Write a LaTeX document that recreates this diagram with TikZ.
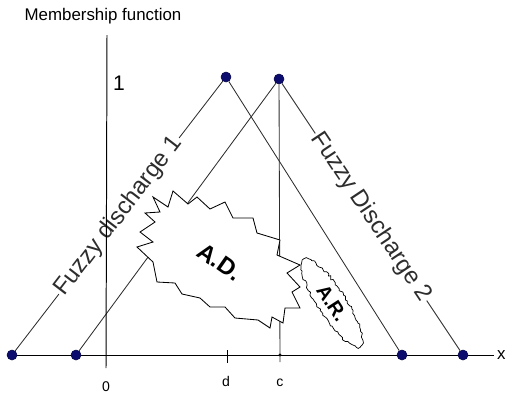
\documentclass[tikz,border=0pt]{standalone}
\usepackage{fontspec}
\setmainfont{Liberation Sans}
\usepackage{xcolor}
\usetikzlibrary{shapes.geometric, decorations.pathmorphing, positioning, calc}
\definecolor{cDot}{RGB}{12,12,110}
\definecolor{cLine}{RGB}{45,45,45}
\tikzset{
	pt/.style      ={circle, draw=cDot!70!black, fill=cDot, minimum size=0.25cm, inner sep=0pt},
	axis/.style    ={line width=0.7pt, black},
	edge/.style    ={line width=0.6pt, cLine},
	curvelbl/.style={font=\fontsize{17}{17}\selectfont, fill=white, inner sep=1pt, sloped},
	ticklbl/.style ={font=\fontsize{10}{10}\selectfont, anchor=base, inner sep=0pt},
	blob/.style    ={draw=black, fill=white, line width=0.6pt},
}

\begin{document}
\begin{tikzpicture}[x=0.025cm, y=-0.025cm]
	\useasboundingbox (0,0) rectangle (506,396);
	% axes
	\coordinate (ytop) at (107,35);
	\coordinate (ybot) at (106,368);
	\coordinate (xstart) at (7,355);
	\node[anchor=west, font=\fontsize{12}{12}\selectfont, inner sep=2pt] (xlbl) at (494,355) {x};
	\draw[axis] (xstart) -- (xlbl.west);
	\node[font=\fontsize{12}{12}\selectfont] (mf) at (103,16) {Membership function};
	\node[font=\fontsize{15}{15}\selectfont] (one) at (119,83) {1};
	\coordinate (dtop) at (227,350);
	\coordinate (dbot) at (227,363);
	\draw[axis] (dtop) -- (dbot);
	\node[ticklbl] (lbl0) at (106,391) {0};
	\node[ticklbl] (lbld) at (226,386) {d};
	\node[ticklbl] (lblc) at (280,386) {c};
	% membership points
	\node[pt] (l1) at (12,355) {};
	\node[pt] (l2) at (76,355) {};
	\node[pt] (r1) at (402,355) {};
	\node[pt] (r2) at (463,355) {};
	\node[pt] (t1) at (226,77) {};
	\node[pt] (t2) at (279,79) {};
	\node[circle, fill=black, minimum size=0.08cm, inner sep=0pt] (cdot) at (280,355) {};
	\coordinate (cbot) at (280,362);
	\draw[edge] (l1) -- node[curvelbl] {Fuzzy discharge 1} (t1);
	\draw[edge] (t1) -- (r1);
	\draw[edge] (t2) -- node[curvelbl] {Fuzzy Discharge 2} (r2);
	\draw[edge] (t2) -- (l2);
	\draw[edge] (t2) -- (cbot);
	\draw[axis] (ytop) -- (ybot);
	% A.D. region
	\draw[blob] (153,197) -- (168,207) -- (173,191) -- (188,204) -- (197,197) -- (210,209)
		-- (225,202) -- (233,218) -- (253,218) -- (257,233) -- (280,240) -- (277,255)
		-- (300,265) -- (287,273) -- (300,287) -- (292,292) -- (300,308) -- (285,308)
		-- (283,323) -- (272,317) -- (270,328) -- (258,320) -- (235,318) -- (225,307)
		-- (210,307) -- (200,298) -- (182,294) -- (175,283) -- (157,282) -- (153,262)
		-- (137,247) -- (153,242) -- (140,232) -- (155,222) -- (145,213) -- (160,212) -- cycle;
	\node[font=\fontsize{17}{17}\selectfont\bfseries, rotate=-35] (ad) at (220,262) {A.D.};
	% A.R. region
	\pgfmathsetseed{7}
	\node[ellipse, draw=black, fill=white, line width=0.5pt, decorate,
		decoration={random steps, segment length=1.6pt, amplitude=0.9pt},
		rotate=-57, minimum width=2.6cm, minimum height=0.7cm, inner sep=0pt,
		font=\fontsize{14}{14}\selectfont\bfseries] (ar) at (332,303) {A.R.};
\end{tikzpicture}
\end{document}
